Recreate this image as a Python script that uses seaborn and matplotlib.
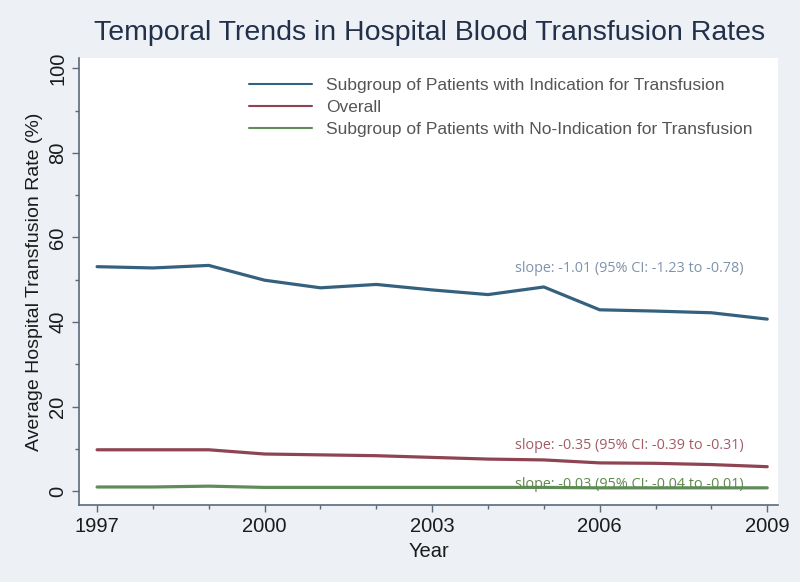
"""Temporal trends in hospital blood transfusion rates."""

import matplotlib

matplotlib.use("Agg")
import matplotlib.pyplot as plt
import numpy as np
import pandas as pd
import seaborn as sns

YEARS = list(range(1997, 2010))
INDICATION = [53.1, 52.8, 53.4, 49.9, 48.1, 48.9, 47.6, 46.5, 48.3, 42.9, 42.6, 42.2, 40.7]
OVERALL = [9.8, 9.8, 9.8, 8.8, 8.6, 8.4, 8.0, 7.6, 7.4, 6.7, 6.6, 6.3, 5.8]
NO_INDICATION = [1.0, 1.0, 1.2, 0.9, 0.9, 0.9, 0.9, 0.9, 0.9, 0.8, 0.8, 0.8, 0.8]

SERIES = [
    "Subgroup of Patients with Indication for Transfusion",
    "Overall",
    "Subgroup of Patients with No-Indication for Transfusion",
]
SLOPES = [
    "slope: -1.01 (95% CI: -1.23 to -0.78)",
    "slope: -0.35 (95% CI: -0.39 to -0.31)",
    "slope: -0.03 (95% CI: -0.04 to -0.01)",
]
SLOPE_Y = [52.7, 10.9, 1.7]

COLORS = ["#35617f", "#8e4453", "#5f8c58"]
TEXT_COLORS = ["#7d93ab", "#a45a66", "#5e8a4c"]

sns.set_theme(style="ticks")
plt.rcParams["font.family"] = ["Liberation Sans", "DejaVu Sans"]

data = pd.DataFrame(
    {
        "Year": YEARS * 3,
        "Rate": INDICATION + OVERALL + NO_INDICATION,
        "Series": np.repeat(SERIES, len(YEARS)),
    }
)

fig = plt.figure(figsize=(8.0, 5.82), dpi=100, facecolor="#edf1f6")
ax = fig.add_axes([0.099, 0.132, 0.874, 0.768])
ax.set_facecolor("white")

sns.lineplot(
    data=data,
    x="Year",
    y="Rate",
    hue="Series",
    hue_order=SERIES,
    palette=dict(zip(SERIES, COLORS)),
    linewidth=2.3,
    ax=ax,
)

for text, y, color in zip(SLOPES, SLOPE_Y, TEXT_COLORS):
    ax.text(2006.53, y, text, ha="center", va="center", fontsize=10.4,
            color=color, family=["Open Sans", "DejaVu Sans"])

ax.set_xlim(1996.68, 2009.2)
ax.set_ylim(-3.3, 102.4)
ax.set_xticks([1997, 2000, 2003, 2006, 2009])
ax.set_xticks(YEARS, minor=True)
ax.set_yticks([0, 20, 40, 60, 80, 100])
ax.set_yticks(np.arange(10, 100, 20), minor=True)
ax.tick_params(axis="both", which="major", length=5, width=1, color="#5a6a7a",
               labelsize=14.5, labelcolor="#1b1b1b")
ax.tick_params(axis="both", which="minor", length=3, width=1, color="#5a6a7a")
ax.tick_params(axis="y", labelrotation=90)
for label in ax.get_yticklabels():
    label.set_va("center")

for side in ["top", "right"]:
    ax.spines[side].set_visible(False)
for side in ["left", "bottom"]:
    ax.spines[side].set_color("#5a6a7a")
    ax.spines[side].set_linewidth(1.2)

ax.set_xlabel("Year", fontsize=14.5, color="#1b1b1b", labelpad=4)
ax.set_ylabel("Average Hospital Transfusion Rate (%)", fontsize=14, color="#1b1b1b", labelpad=4)

leg = ax.legend(
    title=None,
    loc="upper right",
    bbox_to_anchor=(0.985, 0.99),
    frameon=False,
    fontsize=12.5,
    handlelength=3.6,
    handletextpad=0.8,
    labelspacing=0.38,
)
for text in leg.get_texts():
    text.set_color("#555555")
for line in leg.get_lines():
    line.set_linewidth(1.5)

fig.suptitle("Temporal Trends in Hospital Blood Transfusion Rates", x=0.537, y=0.965,
             fontsize=20.5, color="#22304a")

fig.savefig("out.png", dpi=100, facecolor=fig.get_facecolor())
